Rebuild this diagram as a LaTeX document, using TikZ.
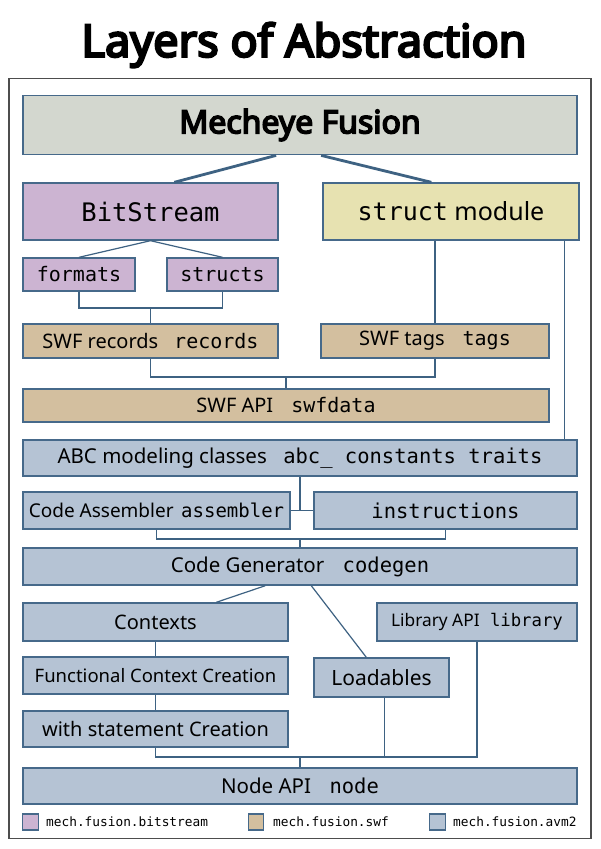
\documentclass[tikz,border=0pt]{standalone}
\usepackage{fontspec}
\setmainfont{Noto Sans}
\newfontfamily\headfont{Noto Sans}[FakeBold=5]
\setmonofont{DejaVu Sans Mono}
\usetikzlibrary{calc}
\definecolor{edgec}{HTML}{46698A}
\definecolor{linec}{HTML}{3E6282}
\definecolor{framec}{HTML}{4D4D4D}
\definecolor{topfill}{HTML}{D3D7CF}
\definecolor{bitfill}{HTML}{CCB4D2}
\definecolor{structfill}{HTML}{E7E2B1}
\definecolor{swffill}{HTML}{D3BF9F}
\definecolor{avmfill}{HTML}{B5C3D4}
\tikzset{
  layer/.style={draw=edgec, line width=1.4pt, rectangle, inner sep=0pt, font=\fontsize{20}{24}\selectfont},
  bitbox/.style={layer, fill=bitfill},
  structbox/.style={layer, fill=structfill},
  swfbox/.style={layer, fill=swffill},
  avmbox/.style={layer, fill=avmfill},
  topbox/.style={layer, fill=topfill, line width=1.8pt},
  conn/.style={draw=linec, line width=1.2pt},
  thickconn/.style={draw=linec, line width=2.8pt},
  legsq/.style={draw=edgec, line width=1.2pt, rectangle, inner sep=0pt, minimum width=15.5pt, minimum height=16pt},
  legtext/.style={anchor=west, inner sep=0pt, font=\ttfamily\fontsize{12.8}{15}\selectfont},
}
\begin{document}
\begin{tikzpicture}[x=1pt,y=-1pt]
\useasboundingbox (0,0) rectangle (600,849);
\fill[white] (0,0) rectangle (600,849);
% title
\node[font=\headfont\fontsize{45}{54}\selectfont, inner sep=0pt] (title) at (304,45) {Layers of Abstraction};
% frame
\node[draw=framec, line width=1.6pt, rectangle, inner sep=0pt, minimum width=582pt, minimum height=760pt] (frame) at (300,458.5) {};
% boxes
\node[topbox, minimum width=554pt, minimum height=59pt, font=\headfont\fontsize{32}{38}\selectfont] (mf) at (300,125) {Mecheye Fusion};
\node[bitbox, minimum width=255pt, minimum height=57pt, font=\ttfamily\fontsize{25.5}{30}\selectfont] (bs) at (150.5,211.5) {BitStream};
\node[structbox, minimum width=256pt, minimum height=57pt, font=\fontsize{25}{30}\selectfont] (sm) at (451,211.5) {\texttt{struct} module};
\node[bitbox, minimum width=112pt, minimum height=33pt, font=\ttfamily\fontsize{20}{24}\selectfont] (fm) at (79,274.5) {formats};
\node[bitbox, minimum width=111pt, minimum height=33pt, font=\ttfamily\fontsize{20}{24}\selectfont] (st) at (222.5,274.5) {structs};
\node[swfbox, minimum width=255pt, minimum height=34pt] (rec) at (150.5,341) {SWF records\hspace{0.8em}\texttt{records}};
\node[swfbox, minimum width=228pt, minimum height=34pt] (tags) at (435,341) {SWF tags\hspace{0.9em}\texttt{tags}};
\node[swfbox, minimum width=526pt, minimum height=33pt] (api) at (286,405.5) {SWF API\hspace{0.9em}\texttt{swfdata}};
\node[avmbox, minimum width=554pt, minimum height=36pt, font=\fontsize{20.5}{24}\selectfont] (abc) at (300,458) {ABC modeling classes\hspace{0.8em}\texttt{abc\_ constants traits}};
\node[avmbox, minimum width=267pt, minimum height=37pt, font=\fontsize{19}{23}\selectfont] (asm) at (156.5,510.5) {Code Assembler\hspace{0.4em}\texttt{assembler}};
\node[avmbox, minimum width=263pt, minimum height=37pt, font=\ttfamily\fontsize{20.5}{24}\selectfont] (ins) at (445.5,510.5) {instructions};
\node[avmbox, minimum width=554pt, minimum height=37pt, font=\fontsize{20.5}{24}\selectfont] (cg) at (300,566.5) {Code Generator\hspace{0.9em}\texttt{codegen}};
\node[avmbox, minimum width=265pt, minimum height=38pt] (ctx) at (155.5,622) {Contexts};
\node[avmbox, minimum width=265pt, minimum height=37pt, font=\fontsize{18.5}{22}\selectfont] (fcc) at (155.5,675.5) {Functional Context Creation};
\node[avmbox, minimum width=265pt, minimum height=36pt] (wsc) at (155.5,729) {with statement Creation};
\node[avmbox, minimum width=135pt, minimum height=39pt, font=\fontsize{21}{25}\selectfont] (ld) at (381.5,677.5) {Loadables};
\node[avmbox, minimum width=200pt, minimum height=38pt, font=\fontsize{17.3}{20}\selectfont] (lib) at (477,622) {Library API\hspace{0.6em}\texttt{library}};
\node[avmbox, minimum width=554pt, minimum height=36pt, font=\fontsize{20.5}{24}\selectfont] (nd) at (300,786) {Node API\hspace{0.9em}\texttt{node}};
% connectors
\draw[thickconn] ([xshift=254pt]mf.south west) -- ([xshift=152pt]bs.north west);
\draw[thickconn] ([xshift=299pt]mf.south west) -- ([xshift=109pt]sm.north west);
\draw[conn] (bs.south) -- (fm.north);
\draw[conn] (bs.south) -- (st.north);
\coordinate (j1) at (150.5,308);
\draw[conn] (fm.south) |- (j1) -| (st.south);
\draw[conn] (j1) -- (rec.north);
\draw[conn] (tags.north) -- (tags.north |- sm.south);
\coordinate (j2) at (286,377);
\draw[conn] (rec.south) |- (j2) -| (tags.south);
\draw[conn] (j2) -- (api.north);
\draw[conn] ([xshift=-15pt]sm.south east) -- ([xshift=-15pt]sm.south east |- abc.north);
\draw[conn] (asm.east) -- (ins.west);
\draw[conn] (abc.south) -- (abc.south |- asm.east);
\coordinate (j3) at (300,539);
\draw[conn] (asm.south) |- (j3) -| (ins.south);
\draw[conn] (j3) -- (cg.north);
\draw[conn] ([xshift=243pt]cg.south west) -- ([xshift=194pt]ctx.north west);
\draw[conn] ([xshift=289pt]cg.south west) -- ([xshift=53pt]ld.north west);
\draw[conn] (ctx.south) -- (fcc.north);
\draw[conn] (fcc.south) -- (wsc.north);
\coordinate (j4) at (300,757);
\draw[conn] (wsc.south) |- (j4) -| (lib.south);
\draw[conn] ([xshift=3pt]ld.south) -- ([xshift=3pt]ld.south |- j4);
\draw[conn] (j4) -- (nd.north);
% legend
\node[legsq, fill=bitfill] (lg1) at (30.5,822) {};
\node[legtext] (lt1) at (46,822) {mech.fusion.bitstream};
\node[legsq, fill=swffill] (lg2) at (256,822) {};
\node[legtext] (lt2) at (273,822) {mech.fusion.swf};
\node[legsq, fill=avmfill] (lg3) at (437.5,822) {};
\node[legtext] (lt3) at (453,822) {mech.fusion.avm2};
\end{tikzpicture}
\end{document}
